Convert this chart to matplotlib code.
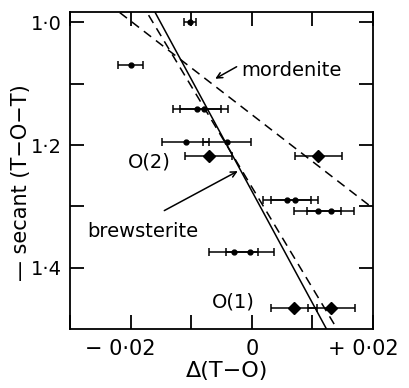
import numpy as np
import matplotlib
matplotlib.use('Agg')
import matplotlib.pyplot as plt
from matplotlib.transforms import ScaledTranslation

plt.rcParams['font.family'] = ['DejaVu Sans']

# small dots, plotted in pairs with their own error bars
dot_x = [-0.0102, -0.0200, -0.0090, -0.0079, -0.0109, -0.0041, 0.0058, 0.0071, 0.0109, 0.0130, -0.0030, -0.0003]
dot_y = [1.000, 1.070, 1.141, 1.141, 1.195, 1.195, 1.289, 1.289, 1.307, 1.307, 1.375, 1.375]
dot_err = [0.0010, 0.0021, 0.0040, 0.0040, 0.0039, 0.0039, 0.0039, 0.0039, 0.0039, 0.0039, 0.0040, 0.0040]

# diamonds O(2) and O(1)
dia_x = [-0.0071, 0.0110, 0.0070, 0.0131]
dia_y = [1.2175, 1.2175, 1.466, 1.466]
dia_err = [0.0039, 0.0039, 0.0038, 0.0039]

# straight lines (end points)
brew_x = [-0.01594, 0.01233]
brew_y = [0.9838, 1.500]
brew_dash_x = [-0.01703, 0.01359]
brew_dash_y = [0.9881, 1.4919]
mord_x = [-0.0218, 0.0200]
mord_y = [0.9838, 1.3030]

xticks = [-0.03, -0.02, -0.01, 0, 0.01, 0.02]
xticklabels = ['', '\u2212 0\u00b702', '', '0', '', '+ 0\u00b702']
yticks = [1.0, 1.1, 1.2, 1.3, 1.4]
yticklabels = ['1\u00b70', '', '1\u00b72', '', '1\u00b74']

fig = plt.figure(figsize=(4.1, 3.88), dpi=100)
ax = fig.add_axes([0.1707, 0.152, 0.739, 0.817])

ax.plot(brew_x, brew_y, color='black', lw=1.1)
ax.plot(brew_dash_x, brew_dash_y, color='black', lw=1.1, dashes=(6, 4))
ax.plot(mord_x, mord_y, color='black', lw=1.1, dashes=(6, 4))

ax.errorbar(dot_x, dot_y, xerr=dot_err, fmt='o', color='black', ms=3.5,
            elinewidth=1.1, capsize=3.2, capthick=1.1)
ax.errorbar(dia_x, dia_y, xerr=dia_err, fmt='D', color='black', ms=6,
            elinewidth=1.1, capsize=3.2, capthick=1.1)

ax.set_xlim(-0.03, 0.02)
ax.set_ylim(1.5, 0.983)

ax.set_xticks(xticks)
ax.set_xticklabels(xticklabels)
ax.set_yticks(yticks)
ax.set_yticklabels(yticklabels)
ax.tick_params(direction='in', length=10, width=1.3, top=True, right=True,
               labelsize=15)
ax.tick_params(axis='x', pad=7)
ax.tick_params(axis='y', pad=6, labelsize=14)
for s in ax.spines.values():
    s.set_linewidth(1.3)

# signed labels sit a bit left of their ticks
for lab in ax.get_xticklabels():
    if lab.get_text() not in ('', '0'):
        lab.set_transform(lab.get_transform() + ScaledTranslation(-0.10, 0, fig.dpi_scale_trans))

ax.set_xlabel('\u0394(T\u2212O)', fontsize=16)
ax.xaxis.set_label_coords(0.517, -0.100)
ax.set_ylabel('\u2014 secant (T\u2212O\u2212T)', fontsize=15)
ax.yaxis.set_label_coords(-0.128, 0.461)

# labels and arrows
ax.text(-0.0018, 1.078, 'mordenite', fontsize=14, ha='left', va='center')
ax.annotate('', xy=(-0.00643, 1.094), xytext=(-0.0021, 1.070),
            arrowprops=dict(arrowstyle='->', color='black', lw=1.1))
ax.text(-0.02708, 1.3404, 'brewsterite', fontsize=14, ha='left', va='center')
ax.annotate('', xy=(-0.00191, 1.2403), xytext=(-0.01484, 1.309),
            arrowprops=dict(arrowstyle='->', color='black', lw=1.1))
ax.text(-0.0169, 1.2284, 'O(2)', fontsize=14, ha='center', va='center')
ax.text(-0.00305, 1.4567, 'O(1)', fontsize=14, ha='center', va='center')

plt.savefig('out.png', dpi=100)
